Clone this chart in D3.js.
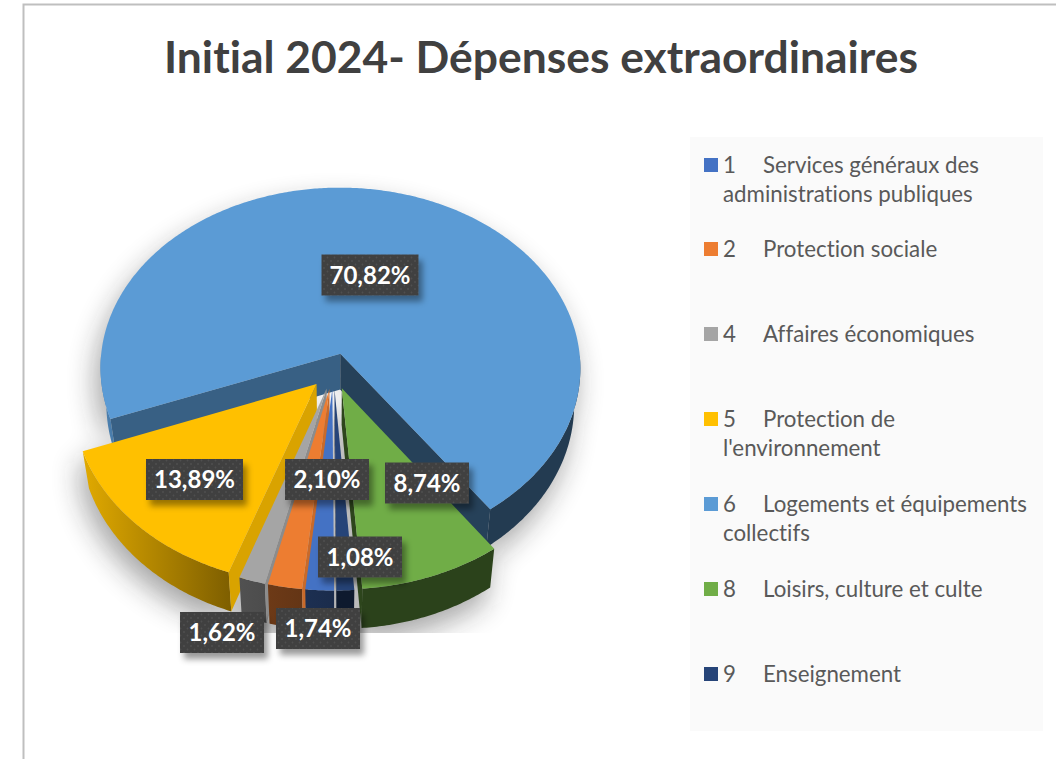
<!DOCTYPE html>
<html>
<head>
<meta charset="utf-8">
<script src="https://cdn.jsdelivr.net/npm/d3@7"></script>
<style>
  html, body { margin: 0; padding: 0; background: #fff; overflow: hidden; }
  text { font-family: Lato, "Open Sans", sans-serif; font-variant-ligatures: none; }
</style>
</head>
<body>
<svg id="chart" width="1056" height="759"></svg>
<script>
// data
const codes = ["1", "2", "4", "5", "6", "8", "9"];
const legendLines = [
  ["Services généraux des", "administrations publiques"],
  ["Protection sociale"],
  ["Affaires économiques"],
  ["Protection de", "l'environnement"],
  ["Logements et équipements", "collectifs"],
  ["Loisirs, culture et culte"],
  ["Enseignement"]
];
const values = [1.74, 2.10, 1.62, 13.89, 70.82, 8.74, 1.08];
const colors = ["#4472C4", "#ED7D31", "#A5A5A5", "#FFC000", "#5B9BD5", "#70AD47", "#264478"];
const valueLabels = ["1,74%", "2,10%", "1,62%", "13,89%", "70,82%", "8,74%", "1,08%"];
// label centres are placed by hand, like in the original
const labelX = [318, 327, 222, 194.5, 370, 427, 360];
const labelY = [628.5, 479.5, 632.5, 479.5, 275, 483, 557];

const svg = d3.select("#chart");
const defs = svg.append("defs");

// frame + title
svg.append("path").attr("d", "M23.5,759V4.5H1056").attr("fill", "none")
  .attr("stroke", "#bfbfbf").attr("stroke-width", 2);
svg.append("text").attr("x", 541).attr("y", 73).attr("text-anchor", "middle")
  .attr("font-size", 44.4).attr("font-weight", 700).attr("fill", "#404040")
  .text("Initial 2024- Dépenses extraordinaires");

// pie projection: disk coords -> screen with a little perspective
const cx = 333.5, cy = 371, rx = 241, ry = 182, persp = 0.08, depth = 36, explode = 0.1, inset = 0.025;
function project(slice, a, r, z) {
  const mid = (slice.startAngle + slice.endAngle) / 2;
  const u = explode * Math.sin(mid) + r * Math.sin(a);
  const v = -explode * Math.cos(mid) - r * Math.cos(a);
  const w = 1 / (1 - persp * v);
  return [cx + rx * u * w * (1 - inset * z), cy + ry * v * w + depth * z * w];
}

const pie = d3.pie().sort(null)
  .startAngle(179.6 * Math.PI / 180)
  .endAngle((179.6 + 360) * Math.PI / 180);
const slices = pie(values).map((d, i) => ({ ...d, i: i }));
const line = d3.line();

function rimAngles(s) {
  return d3.range(s.startAngle, s.endAngle, 0.01).concat([s.endAngle]);
}
function topPath(s) {
  const pts = [project(s, 0, 0, 0)].concat(rimAngles(s).map(a => project(s, a, 1, 0)));
  return line(pts) + "Z";
}
// outer wall, only the parts turned to the viewer
function rimPaths(s) {
  const runs = [];
  let cur = null;
  rimAngles(s).forEach(a => {
    if (Math.cos(a) <= 0) {
      if (!cur) { cur = []; runs.push(cur); }
      cur.push(a);
    } else cur = null;
  });
  return runs.map(r => {
    const pts = r.map(a => project(s, a, 1, 0)).concat(r.slice().reverse().map(a => project(s, a, 1, 1)));
    return line(pts) + "Z";
  });
}
function cutPath(s, a) {
  return line([project(s, 0, 0, 0), project(s, a, 1, 0), project(s, a, 1, 1), project(s, 0, 0, 1)]) + "Z";
}
const shade = (c, f) => d3.interpolateRgb(c, "#000")(f);

// rim gradient, lit from the left
const rimStopX = [0, 0.29, 0.52, 1];
const rimStopF = [0.12, 0.5, 0.62, 0.62];
slices.forEach(s => {
  const g = defs.append("linearGradient").attr("id", "rim" + s.i)
    .attr("gradientUnits", "userSpaceOnUse")
    .attr("x1", 84).attr("x2", 580).attr("y1", 0).attr("y2", 0);
  rimStopX.forEach((o, j) => g.append("stop").attr("offset", o).attr("stop-color", shade(colors[s.i], rimStopF[j])));
});

// floor shadow
defs.append("filter").attr("id", "floor").attr("x", "-20%").attr("y", "-20%").attr("width", "140%").attr("height", "140%")
  .append("feGaussianBlur").attr("stdDeviation", 14);
defs.append("clipPath").attr("id", "floorClip").append("rect")
  .attr("x", 30).attr("y", 150).attr("width", 640).attr("height", 483);
const floor = svg.append("g").attr("clip-path", "url(#floorClip)")
  .append("g").attr("filter", "url(#floor)").attr("transform", "translate(-5,14)").attr("opacity", 0.4);
slices.forEach(s => {
  floor.append("path").attr("d", topPath(s)).attr("fill", "#222");
  rimPaths(s).forEach(p => floor.append("path").attr("d", p).attr("fill", "#222"));
});

// back to front
const order = [4, 5, 3, 2, 1, 0, 6];
const pieG = svg.append("g");
order.forEach(idx => {
  const s = slices[idx];
  const c = colors[idx];
  const g = pieG.append("g");
  rimPaths(s).forEach(p => g.append("path").attr("d", p).attr("fill", "url(#rim" + idx + ")"));
  // cut faces, drawn only if they look to the viewer
  if (-Math.cos(s.startAngle - Math.PI / 2) > 0)
    g.append("path").attr("d", cutPath(s, s.startAngle)).attr("fill", shade(c, idx === 4 ? 0.38 : 0.15));
  if (-Math.cos(s.endAngle + Math.PI / 2) > 0)
    g.append("path").attr("d", cutPath(s, s.endAngle)).attr("fill", shade(c, idx === 4 ? 0.58 : 0.6));
  g.append("path").attr("d", topPath(s)).attr("fill", c);
});

// value labels
const dots = defs.append("pattern").attr("id", "dots").attr("patternUnits", "userSpaceOnUse")
  .attr("width", 7).attr("height", 7);
dots.append("rect").attr("width", 7).attr("height", 7).attr("fill", "#404040");
dots.append("circle").attr("cx", 2).attr("cy", 2).attr("r", 0.9).attr("fill", "#505050");
dots.append("circle").attr("cx", 5.5).attr("cy", 5.5).attr("r", 0.9).attr("fill", "#505050");
const ds = defs.append("filter").attr("id", "boxShadow").attr("x", "-20%").attr("y", "-30%").attr("width", "150%").attr("height", "170%");
ds.append("feDropShadow").attr("dx", 4).attr("dy", 6).attr("stdDeviation", 3)
  .attr("flood-color", "#000").attr("flood-opacity", 0.4);

valueLabels.forEach((t, i) => {
  const w = t.length > 5 ? 97 : 84;
  svg.append("rect").attr("x", labelX[i] - w / 2).attr("y", labelY[i] - 20.5)
    .attr("width", w).attr("height", 41).attr("fill", "url(#dots)").attr("filter", "url(#boxShadow)");
  svg.append("text").attr("x", labelX[i]).attr("y", labelY[i] + 8.5).attr("text-anchor", "middle")
    .attr("font-size", 24).attr("font-weight", 700).attr("fill", "#fff").text(t);
});

// legend
svg.append("rect").attr("x", 690).attr("y", 137).attr("width", 353).attr("height", 594).attr("fill", "#fafafa");
const rowY = { "1": 165, "2": 249, "4": 334, "5": 419, "6": 504, "8": 589, "9": 674 };
codes.forEach((code, i) => {
  const y = rowY[code];
  const row = svg.append("g").attr("font-size", 22.3).attr("fill", "#595959");
  row.append("rect").attr("x", 704).attr("y", y - 7).attr("width", 14).attr("height", 14).attr("fill", colors[i]);
  row.append("text").attr("x", 723).attr("y", y + 8).text(code);
  legendLines[i].forEach((l, j) => {
    row.append("text").attr("x", j === 0 ? 763 : 723).attr("y", y + 8 + j * 28.5).text(l);
  });
});
</script>
</body>
</html>
